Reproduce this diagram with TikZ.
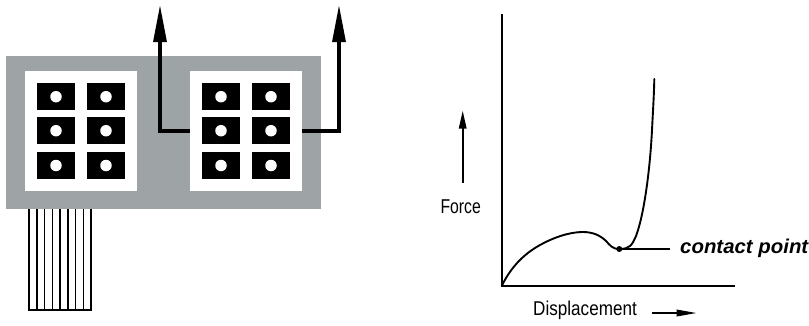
\documentclass[tikz,border=0pt]{standalone}
\usepackage{fontspec}
\setmainfont{Liberation Sans}
\usetikzlibrary{arrows.meta,calc}
\definecolor{panelgray}{RGB}{158,163,165}
\tikzset{
  panel/.style={fill=panelgray,draw=none,inner sep=0,minimum width=315pt,minimum height=153pt},
  keypad/.style={fill=white,draw=none,inner sep=0,minimum width=112pt,minimum height=120pt},
  keycell/.style={fill=black,draw=none,inner sep=0,minimum width=38pt,minimum height=27pt},
  keydot/.style={circle,fill=white,draw=none,inner sep=0,minimum size=11.5pt},
  wire/.style={line width=3.2pt,-{Triangle[length=37pt,width=13pt]}},
  ribbonline/.style={line width=1.5pt},
  axisline/.style={line width=1.9pt},
  curveline/.style={line width=1.9pt,line join=round,line cap=round},
  smallarrow/.style={line width=1.8pt,-{Triangle[length=18pt,width=7.5pt]}},
  lbl/.style={inner sep=0,font=\fontsize{20}{22}\selectfont}
}
\begin{document}
\begin{tikzpicture}[x=1pt,y=-1pt]
\useasboundingbox (0,0) rectangle (809,325);
\node[panel] (panel) at (163.5,132.5) {};
\node[keypad] (padL) at (81,131) {};
\node[keypad] (padR) at (246,131) {};
\foreach \p/\ox in {A/56,B/221}{
  \foreach \c/\dx in {1/0,2/50}{
    \foreach \r/\y in {1/96.7,2/130.7,3/165.5}{
      \pgfmathsetmacro{\xx}{\ox+\dx}
      \node[keycell] (cell\p\c\r) at (\xx,\y) {};
      \node[keydot] (dot\p\c\r) at (\xx,\y) {};
    }
  }
}
% output wires
\coordinate (tipL) at (160,5);
\coordinate (tipR) at (339,5);
\draw[wire] (padR.west) -| (tipL);
\draw[wire] (padR.east) -| (tipR);
% ribbon cable
\coordinate (ribTL) at (29,209);
\coordinate (ribBL) at (29,310);
\coordinate (ribBR) at (91,310);
\foreach \i in {0,...,8}{
  \draw[ribbonline] ($(ribTL)+(7.75*\i,0)$) -- ($(ribBL)+(7.75*\i,0)$);
}
\draw[ribbonline,line cap=rect] (ribBL) -- (ribBR);
% graph
\coordinate (origin) at (501.7,286);
\coordinate (ytop) at (501.7,14);
\coordinate (xend) at (735,286);
\draw[axisline] (ytop) -- (origin) -- (xend);
\draw[curveline] (origin) .. controls (510,269) and (522,255) .. (540,245)
  .. controls (560,234) and (575,232) .. (583,232)
  .. controls (592,232) and (600,235) .. (606,241)
  .. controls (610,245) and (612,249) .. (619.3,249)
  .. controls (630,249) and (632,245) .. (636,236)
  .. controls (644,215) and (650,170) .. (652,130)
  .. controls (653,110) and (654,95) .. (654.3,79);
\node[circle,fill=black,inner sep=0,minimum size=6pt] (contact) at (619.3,249) {};
\coordinate (leaderend) at (670,249);
\draw[axisline] (contact) -- (leaderend);
\node[lbl,anchor=west,xscale=1.02,font=\fontsize{20}{22}\selectfont\bfseries\itshape] (ctext) at (680,248) {contact point};
% force
\coordinate (fbase) at (462.7,182.7);
\coordinate (ftip) at (462.7,110.7);
\draw[smallarrow] (fbase) -- (ftip);
\node[lbl,xscale=.79] (force) at (460.7,207) {Force};
% displacement
\node[lbl,xscale=.855] (disp) at (585,310.5) {Displacement};
\coordinate (dbase) at (651.7,313);
\coordinate (dtip) at (696.7,313);
\draw[line width=1.8pt,-{Triangle[length=20pt,width=6.5pt]}] (dbase) -- (dtip);
\end{tikzpicture}
\end{document}
